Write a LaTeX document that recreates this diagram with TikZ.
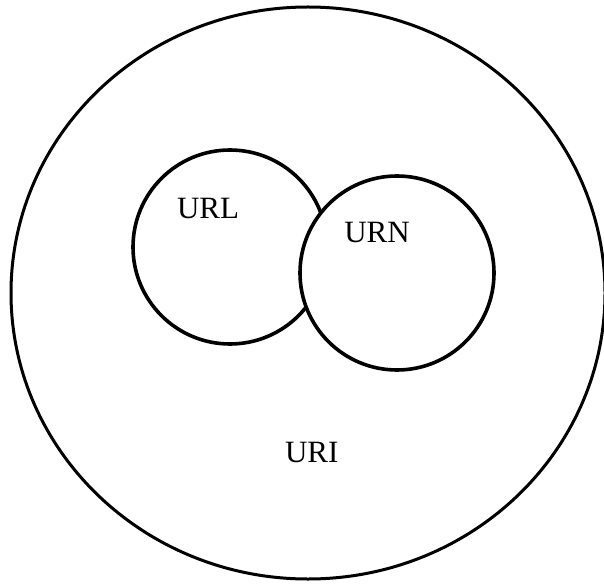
\documentclass[tikz,border=0pt]{standalone}
\usepackage{fontspec}
\setmainfont{Liberation Serif}
\usetikzlibrary{shapes.geometric}

\begin{document}
\begin{tikzpicture}[x=1pt,y=-1pt,font=\fontsize{31}{36}\selectfont,
 set/.style={draw,circle,line width=3.6pt,inner sep=0pt,minimum size=194pt,fill=white},
 label/.style={anchor=base,inner sep=0pt}]
\useasboundingbox (0,0) rectangle (604,585);
\node[draw,ellipse,line width=3pt,inner sep=0pt,minimum width=594pt,minimum height=572pt] (uri) at (308,293) {};
\node[set] (url) at (230,247) {};
\node[set] (urn) at (397,273) {};
\node[label] (urltext) at (208,218.3) {URL};
\node[label] (urntext) at (377,242.7) {URN};
\node[label] (uritext) at (311.7,462.3) {URI};
\end{tikzpicture}
\end{document}
